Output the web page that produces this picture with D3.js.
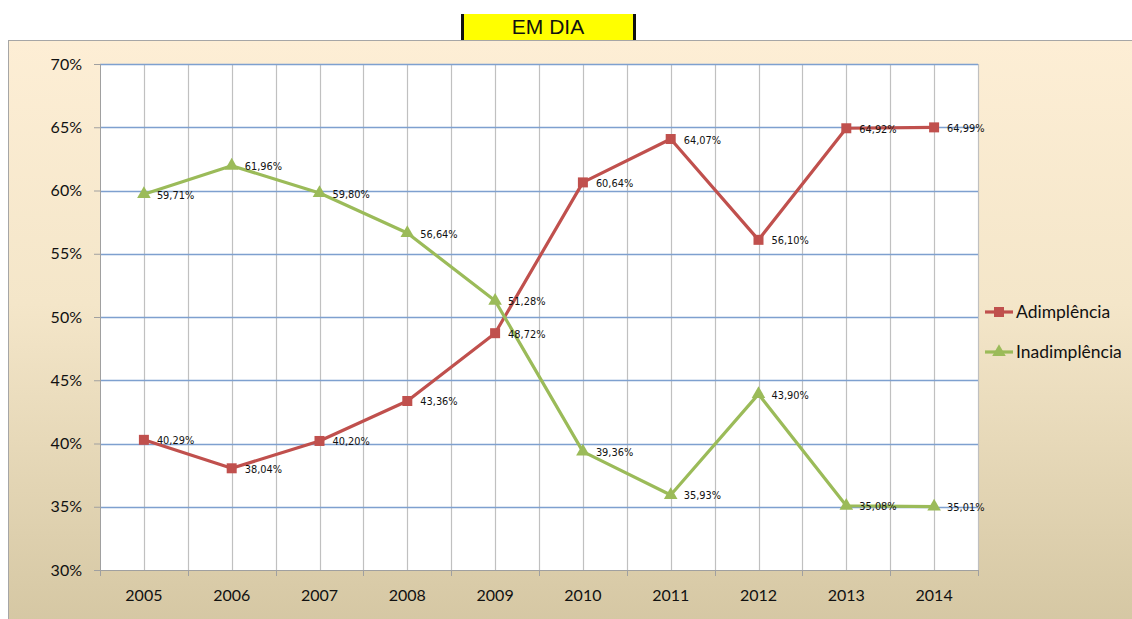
<!DOCTYPE html>
<html><head><meta charset="utf-8">
<script src="https://cdn.jsdelivr.net/npm/d3@7"></script>
<style>body{margin:0;background:#fff;}svg{display:block;}</style>
</head><body>
<svg id="c" width="1132" height="619"></svg>
<script>
const years = ["2005","2006","2007","2008","2009","2010","2011","2012","2013","2014"];
const adimplencia = [40.29,38.04,40.20,43.36,48.72,60.64,64.07,56.10,64.92,64.99];
const inadimplencia = [59.71,61.96,59.80,56.64,51.28,39.36,35.93,43.90,35.08,35.01];
const yTicks = [30,35,40,45,50,55,60,65,70];
const seriesNames = ["Adimplência","Inadimplência"];
const title = "EM DIA";

const svg = d3.select("#c");
const defs = svg.append("defs");
const g = defs.append("linearGradient").attr("id","bg").attr("x1",0).attr("y1",0).attr("x2",0).attr("y2",1);
g.append("stop").attr("offset","0%").attr("stop-color","#fdeed5");
g.append("stop").attr("offset","45%").attr("stop-color","#f4e6c9");
g.append("stop").attr("offset","100%").attr("stop-color","#d5c7a3");

svg.append("rect").attr("x",8.5).attr("y",40.5).attr("width",1130).attr("height",585)
  .attr("fill","url(#bg)").attr("stroke","#a6a6a6").attr("stroke-width",1);

// title
svg.append("rect").attr("x",461).attr("y",14).attr("width",175).attr("height",26).attr("fill","#ffff00");
svg.append("rect").attr("x",461).attr("y",14).attr("width",3).attr("height",26).attr("fill","#111");
svg.append("rect").attr("x",633).attr("y",14).attr("width",3).attr("height",26).attr("fill","#111");
svg.append("text").attr("x",548).attr("y",34).attr("text-anchor","middle")
  .style("font-family","Liberation Sans, Arial").style("font-size","21px").attr("fill","#111").text(title);

const L=100,R=978,T=64,B=570;
const x = d3.scaleBand().domain(years).range([L,R]);
const y = d3.scaleLinear().domain([30,70]).range([B,T]);

svg.append("rect").attr("x",L).attr("y",T).attr("width",R-L).attr("height",B-T).attr("fill","#fff");

// vertical gridlines at centers and boundaries
const vx = [];
years.forEach((d,i)=>{ if(i>0) vx.push(x(d)); vx.push(x(d)+x.bandwidth()/2); });
vx.push(R);
svg.append("g").selectAll("line").data(vx).join("line")
  .attr("x1",d=>Math.round(d)+0.5).attr("x2",d=>Math.round(d)+0.5).attr("y1",T).attr("y2",B)
  .attr("stroke","#c0c0c0").attr("stroke-width",1.2);

// horizontal gridlines
svg.append("g").selectAll("line").data(yTicks.slice(1)).join("line")
  .attr("x1",L).attr("x2",R).attr("y1",d=>Math.round(y(d))+0.5).attr("y2",d=>Math.round(y(d))+0.5)
  .attr("stroke","#7ea0cf").attr("stroke-width",1.3);

// axes
const yAx = svg.append("g").attr("transform",`translate(${L},0)`)
  .call(d3.axisLeft(y).tickValues(yTicks).tickFormat(d=>d+"%").tickSize(6).tickPadding(12));
yAx.select(".domain").attr("stroke","#a0a0a0");
yAx.selectAll(".tick line").attr("stroke","#a0a0a0");
yAx.selectAll("text").style("font-family","Lato, Carlito, sans-serif").style("font-size","16px").attr("fill","#111");

const xAx = svg.append("g").attr("transform",`translate(0,${B})`)
  .call(d3.axisBottom(x).tickSize(0).tickPadding(20));
xAx.select(".domain").attr("stroke","#a0a0a0");
xAx.selectAll("text").style("font-family","Lato, Carlito, sans-serif").style("font-size","16px").attr("fill","#111");
svg.append("g").selectAll("line").data(years.map(d=>x(d)).concat([R])).join("line")
  .attr("x1",d=>Math.round(d)+0.5).attr("x2",d=>Math.round(d)+0.5).attr("y1",B).attr("y2",B+6)
  .attr("stroke","#a0a0a0");

const cx = d=>x(d)+x.bandwidth()/2;
const line = d3.line().x((d,i)=>cx(years[i])).y(d=>y(d));
const colors = ["#c0504d","#9bbb59"];
const data = [adimplencia, inadimplencia];

data.forEach((s,k)=>{
  svg.append("path").datum(s).attr("d",line).attr("fill","none")
    .attr("stroke",colors[k]).attr("stroke-width",3.2).attr("stroke-linejoin","round");
});
// markers
svg.append("g").selectAll("rect").data(adimplencia).join("rect")
  .attr("x",(d,i)=>cx(years[i])-5).attr("y",d=>y(d)-5).attr("width",10).attr("height",10).attr("fill",colors[0]);
const tri = d3.symbol().type(d3.symbolTriangle).size(80);
svg.append("g").selectAll("path").data(inadimplencia).join("path")
  .attr("d",tri).attr("transform",(d,i)=>`translate(${cx(years[i])},${y(d)})`).attr("fill",colors[1]);

// labels
const fmt = v=>v.toFixed(2).replace(".",",")+"%";
data.forEach((s,k)=>{
  svg.append("g").selectAll("text").data(s).join("text")
    .attr("x",(d,i)=>cx(years[i])+13).attr("y",d=>y(d)+4.5)
    .style("font-family","DejaVu Sans, Verdana, sans-serif").style("font-size","9.8px").attr("fill","#111")
    .text(d=>fmt(d));
});

// legend
const lg = svg.append("g");
seriesNames.forEach((n,k)=>{
  const yy = 312 + k*40;
  lg.append("line").attr("x1",985).attr("x2",1013).attr("y1",yy).attr("y2",yy).attr("stroke",colors[k]).attr("stroke-width",3.2);
  if(k===0) lg.append("rect").attr("x",994).attr("y",yy-5).attr("width",10).attr("height",10).attr("fill",colors[0]);
  else lg.append("path").attr("d",tri).attr("transform",`translate(999,${yy})`).attr("fill",colors[1]);
  lg.append("text").attr("x",1016).attr("y",yy+5.5).style("font-family","Lato, Carlito, sans-serif").style("font-size","17.5px").attr("fill","#111").text(n);
});
</script>
</body></html>
